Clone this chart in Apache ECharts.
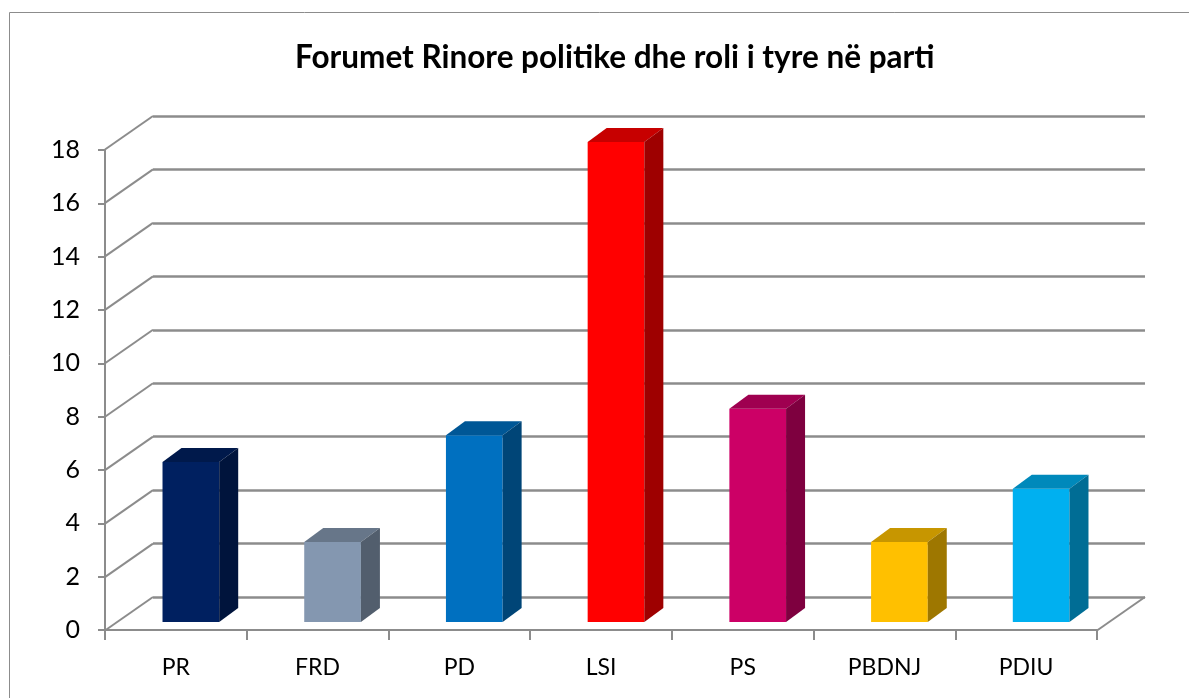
<!DOCTYPE html>
<html>
<head>
<meta charset="utf-8">
<script src="https://cdn.jsdelivr.net/npm/echarts@6/dist/echarts.min.js"></script>
<style>
  html, body { margin: 0; padding: 0; background: #fff; }
  #chart { width: 1189px; height: 698px; }
</style>
</head>
<body>
<div id="chart"></div>
<script>
// partite dhe vlerat
const categories = ['PR', 'FRD', 'PD', 'LSI', 'PS', 'PBDNJ', 'PDIU']
const values = [6, 3, 7, 18, 8, 3, 5]
const yTicks = [0, 2, 4, 6, 8, 10, 12, 14, 16, 18]

// ngjyrat e shtyllave (ana e përparme)
const barColors = ['#002060', '#8497B0', '#0070C0', '#FF0000', '#CC0066', '#FFC000', '#00B0F0']

const DEPTH_X = 48 // zhvendosja e murit të pasmë
const DEPTH_Y = 33.5
const GRID_COLOR = '#8c8c8c'
const FONT = 'Lato, "Open Sans", sans-serif'

function shade (hex, k) {
  const n = parseInt(hex.slice(1), 16)
  const r = Math.round(((n >> 16) & 255) * k)
  const g = Math.round(((n >> 8) & 255) * k)
  const b = Math.round((n & 255) * k)
  return 'rgb(' + r + ',' + g + ',' + b + ')'
}

const chart = echarts.init(document.getElementById('chart'))

function renderBar (params, api) {
  const idx = api.value(0)
  const base = api.coord([idx, 0])
  const top = api.coord([idx, api.value(1)])
  const w = api.size([1, 0])[0] * 0.4
  const dx1 = 15, dy1 = -8 // pozicioni në thellësi
  const ddx = 19, ddy = -14 // thellësia e shtyllës
  const x0 = base[0] + dx1 - w / 2
  const yb = base[1] + dy1
  const yt = top[1] + dy1
  const c = barColors[idx]
  return {
    type: 'group',
    children: [
      {
        type: 'rect',
        shape: { x: x0, y: yt, width: w, height: yb - yt },
        style: { fill: c }
      },
      {
        type: 'polygon',
        shape: { points: [[x0, yt], [x0 + w, yt], [x0 + w + ddx, yt + ddy], [x0 + ddx, yt + ddy]] },
        style: { fill: shade(c, 0.78) }
      },
      {
        type: 'polygon',
        shape: { points: [[x0 + w, yt], [x0 + w, yb], [x0 + w + ddx, yb + ddy], [x0 + w + ddx, yt + ddy]] },
        style: { fill: shade(c, 0.62) }
      }
    ]
  }
}

function renderDiagonal (params, api) {
  const p = api.coord([api.value(0), api.value(1)])
  return {
    type: 'line',
    shape: { x1: p[0] - DEPTH_X, y1: p[1] + DEPTH_Y, x2: p[0], y2: p[1] },
    style: { stroke: GRID_COLOR, lineWidth: 2 }
  }
}

const option = {
  animation: false,
  backgroundColor: '#fff',
  title: {
    text: 'Forumet Rinore politike dhe roli i tyre në parti',
    left: 290,
    top: 37,
    textStyle: { fontFamily: FONT, fontSize: 31.5, fontWeight: 'bold', color: '#000' }
  },
  graphic: [
    {
      type: 'rect',
      shape: { x: 9.5, y: 12.5, width: 1200, height: 720 },
      style: { fill: 'none', stroke: '#8c8c8c', lineWidth: 1 },
      silent: true
    }
  ],
  grid: [
    // ana e përparme
    { left: 105, right: 92, top: 150, bottom: 68 },
    // muri i pasmë
    { left: 153, right: 44, top: 116, bottom: 101 }
  ],
  xAxis: [
    {
      type: 'category',
      gridIndex: 0,
      data: categories,
      axisLine: { show: true, lineStyle: { color: GRID_COLOR, width: 2 } },
      axisTick: { show: true, length: 10, lineStyle: { color: GRID_COLOR, width: 2 } },
      axisLabel: { fontFamily: FONT, fontSize: 23, color: '#000', margin: 26 }
    },
    { type: 'value', gridIndex: 1, min: 0, max: 1, show: false }
  ],
  yAxis: [
    {
      type: 'value',
      gridIndex: 0,
      min: 0,
      max: 18,
      interval: 2,
      axisLine: { show: true, lineStyle: { color: GRID_COLOR, width: 2 } },
      axisTick: { show: true, length: 7, lineStyle: { color: GRID_COLOR, width: 2 } },
      splitLine: { show: false },
      axisLabel: { fontFamily: FONT, fontSize: 25, color: '#000', margin: 25 }
    },
    {
      type: 'value',
      gridIndex: 1,
      min: 0,
      max: 18,
      interval: 2,
      axisLine: { show: false },
      axisTick: { show: false },
      axisLabel: { show: false },
      splitLine: { show: true, lineStyle: { color: GRID_COLOR, width: 2.5 } }
    }
  ],
  series: [
    {
      name: 'vijat',
      type: 'custom',
      xAxisIndex: 1,
      yAxisIndex: 1,
      renderItem: renderDiagonal,
      data: yTicks.map(v => [0, v]).concat([[1, 0]]),
      silent: true
    },
    {
      name: 'Forumet',
      type: 'custom',
      xAxisIndex: 0,
      yAxisIndex: 0,
      renderItem: renderBar,
      data: values.map((v, i) => [i, v]),
      z: 5
    }
  ]
}

chart.setOption(option)
</script>
</body>
</html>
